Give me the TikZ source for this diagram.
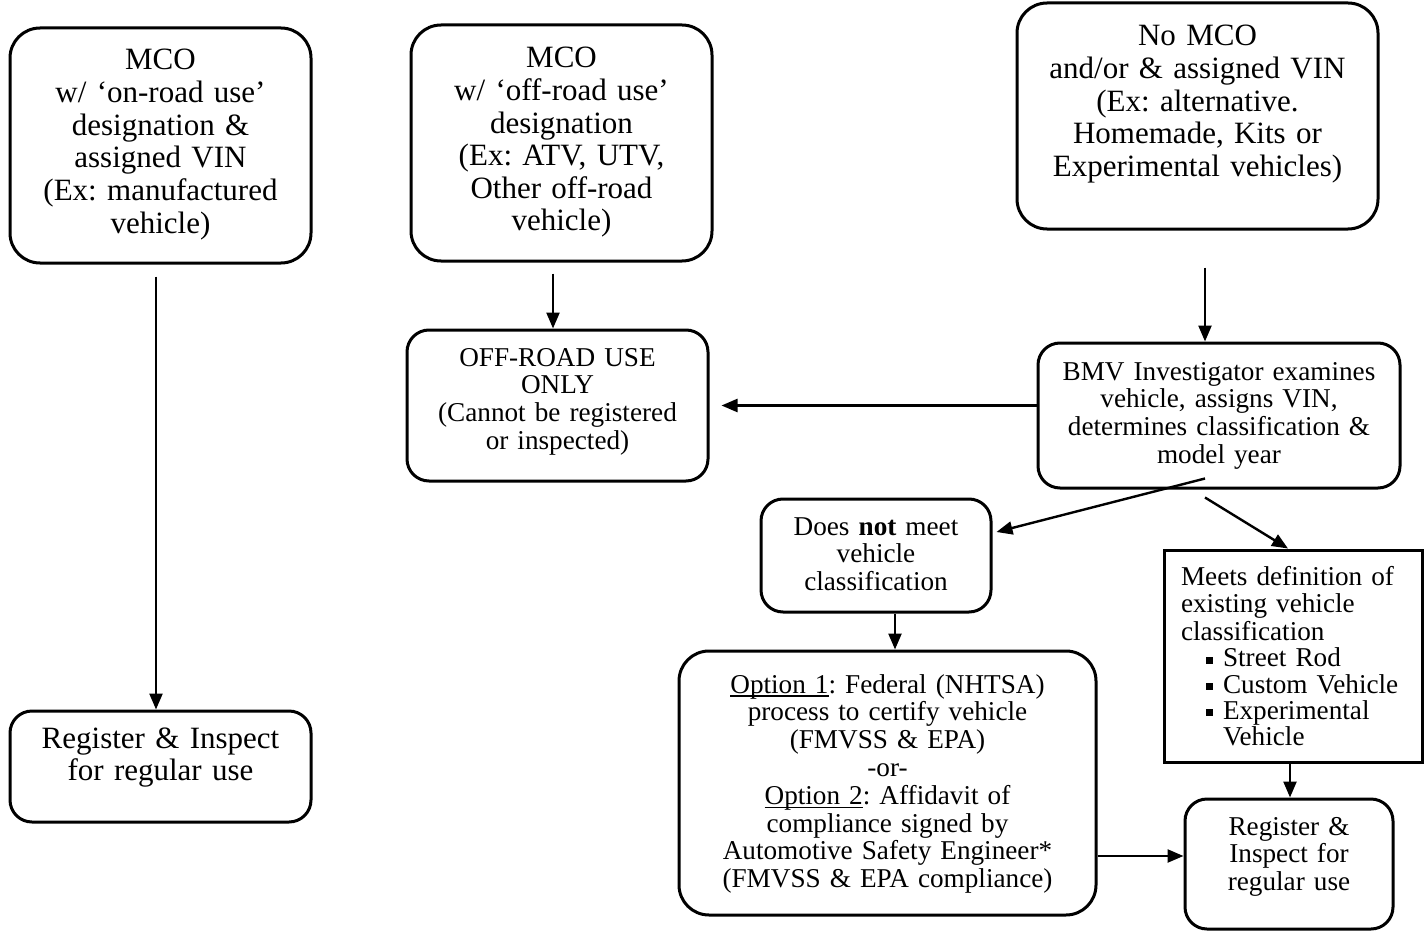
\documentclass[tikz,border=0pt]{standalone}
\usepackage{fontspec}
\setmainfont{Liberation Serif}
\usetikzlibrary{arrows.meta}
\frenchspacing

\newcommand{\sqb}{\rule[0.12em]{3.5pt}{3.5pt}}
\newsavebox{\ulbox}
\newcommand{\optul}[1]{\leavevmode\sbox{\ulbox}{#1}\rlap{\rule[-1.8pt]{\wd\ulbox}{0.6pt}}\usebox{\ulbox}}

\tikzset{
  rbox/.style={draw, line width=1.5pt, rounded corners=#1, inner sep=0pt, align=center},
  rbox/.default=11pt,
  sbox/.style={draw, line width=1.5pt, inner sep=0pt},
  big/.style={font=\fontsize{15.5}{16.3}\selectfont},
  small/.style={font=\fontsize{13.6}{13.9}\selectfont},
  tb/.style n args={3}{minimum width=#1, text width=#1-6pt, text height=#2, text depth=#3},
  arr/.style={-{Triangle[length=8pt,width=6.5pt]}, line width=1.2pt},
}

\begin{document}
\begin{tikzpicture}[x=0.5pt, y=-0.5pt]
\useasboundingbox (0,0) rectangle (1424,931);

\node[rbox=15pt, big, tb={150.5pt}{21pt}{96.5pt}] (onroad) at (160.5,145.5)
  {MCO\\w/ ‘on-road use’\\designation \&\\assigned VIN\\(Ex: manufactured\\vehicle)};
\node[rbox=15pt, big, tb={150.5pt}{21.5pt}{96.5pt}] (offroad) at (561.5,143)
  {MCO\\w/ ‘off-road use’\\designation\\(Ex: ATV, UTV,\\Other off-road\\vehicle)};
\node[rbox=15pt, big, tb={180.5pt}{21.5pt}{91.5pt}] (nomco) at (1197.5,116)
  {No MCO\\and/or \& assigned VIN\\(Ex: alternative.\\Homemade, Kits or\\Experimental vehicles)};
\node[rbox, big, tb={150.5pt}{18.5pt}{37pt}] (reg1) at (160.5,766.5)
  {Register \& Inspect\\for regular use};

\node[rbox, small, tb={150.5pt}{18pt}{57.5pt}] (offonly) at (557.5,405.5)
  {OFF-ROAD USE\\ONLY\\(Cannot be registered\\or inspected)};
\node[rbox, small, tb={181pt}{18.5pt}{54pt}] (bmv) at (1219,415.5)
  {BMV Investigator examines\\vehicle, assigns VIN,\\determines classification \&\\model year};
\node[rbox, small, tb={115pt}{18pt}{38.5pt}] (notmeet) at (876,555.5)
  {Does \textbf{not} meet\\vehicle\\classification};
\node[rbox=15pt, small, tb={208.5pt}{21pt}{111pt}] (options) at (887.5,783)
  {\optul{Option 1}: Federal (NHTSA)\\process to certify vehicle\\(FMVSS \& EPA)\\-or-\\\optul{Option 2}: Affidavit of\\compliance signed by\\Automotive Safety Engineer*\\(FMVSS \& EPA compliance)};
\node[sbox, small, minimum width=129pt, text width=112pt, align=left, text height=17.5pt, text depth=88.5pt] (meets) at (1293,656)
  {Meets definition of\\existing vehicle\\classification\\[-0.8pt]
   \hspace*{12.5pt}\sqb\hspace{5pt}Street Rod\\[-0.8pt]
   \hspace*{12.5pt}\sqb\hspace{5pt}Custom Vehicle\\[-0.8pt]
   \hspace*{12.5pt}\sqb\hspace{5pt}Experimental\\[-0.8pt]
   \hspace*{21pt}Vehicle};
\node[rbox, small, tb={104pt}{18pt}{47pt}] (reg2) at (1289,864)
  {Register \&\\Inspect for\\regular use};

\draw[arr, shorten <=6pt] ([xshift=-2.25pt]onroad.south) -- ([xshift=-2.25pt]reg1.north);
\draw[arr, shorten <=5.5pt] ([xshift=-4.25pt]offroad.south) -- ([xshift=-2.25pt]offonly.north);
\draw[arr, shorten <=18.5pt] ([xshift=3.75pt]nomco.south) -- ([xshift=-7pt]bmv.north);
\draw[arr, shorten >=6pt] (bmv.west |- offonly.east) -- (offonly.east);
\draw[arr] ([xshift=-7pt, yshift=5.5pt]bmv.south) -- ([xshift=2pt, yshift=11.75pt]notmeet.east);
\draw[arr] ([xshift=-7pt, yshift=-4pt]bmv.south) -- ([xshift=-2.5pt]meets.north);
\draw[arr] ([xshift=9.5pt]notmeet.south) -- ([xshift=3.75pt]options.north);
\draw[arr] ([xshift=-1.5pt]meets.south) -- ([xshift=0.5pt]reg2.north);
\draw[arr] ([yshift=-36.5pt]options.east) -- ([yshift=4pt]reg2.west);
\end{tikzpicture}
\end{document}
